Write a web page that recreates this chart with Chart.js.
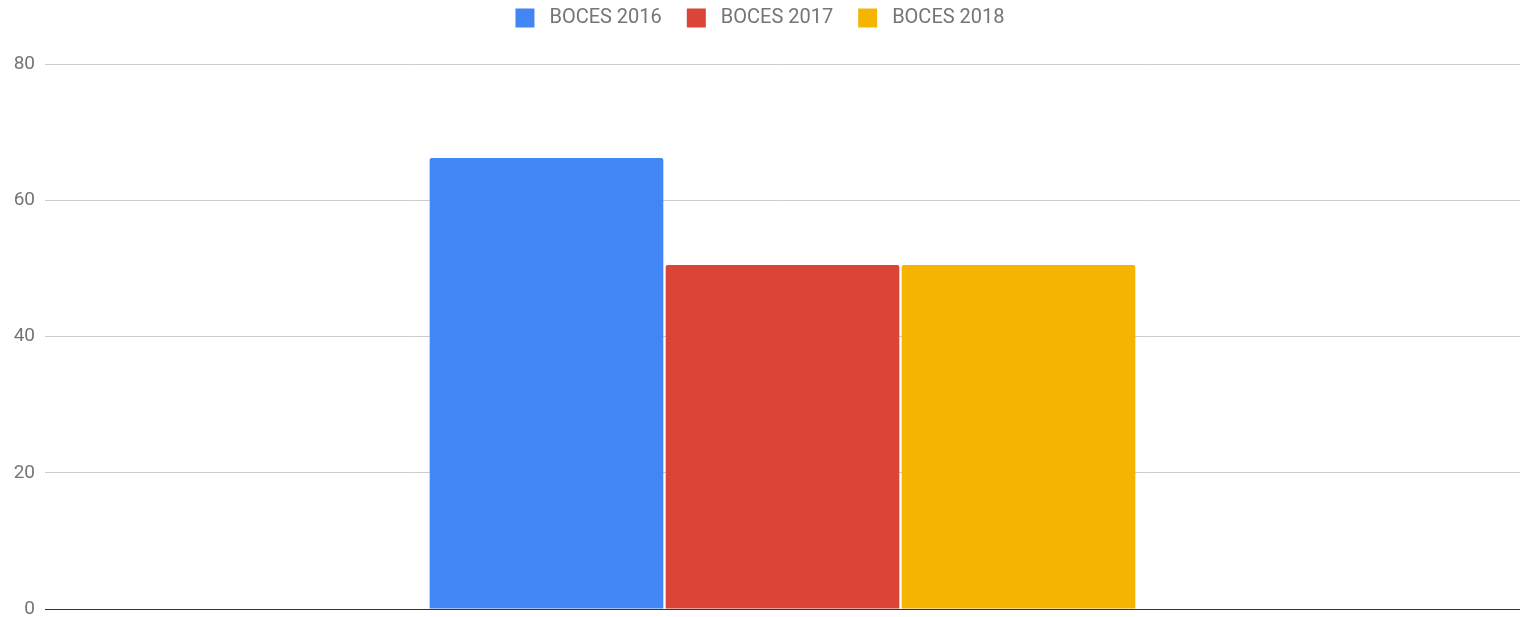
<!DOCTYPE html>
<html>
<head>
<meta charset="utf-8">
<script src="https://cdn.jsdelivr.net/npm/chart.js@4/dist/chart.umd.min.js"></script>
<style>
  html, body { margin: 0; padding: 0; background: #fff; }
  #chart { display: block; }
</style>
</head>
<body>
<canvas id="chart" width="1520" height="617"></canvas>
<script>
// datos
const categories = [''];
const seriesNames = ['BOCES 2016', 'BOCES 2017', 'BOCES 2018'];
const boces2016 = [66.2];
const boces2017 = [50.5];
const boces2018 = [50.5];
const yTicks = [0, 20, 40, 60, 80];

const COLORS = ['#4285F4', '#DB4437', '#F4B400'];
const TEXT = '#757575';

const values = [boces2016, boces2017, boces2018];
const datasets = seriesNames.map((name, i) => ({
  label: name,
  data: values[i],
  backgroundColor: COLORS[i],
  borderWidth: 0,
  borderRadius: { topLeft: 2, topRight: 2 },
  borderSkipped: 'start',
  categoryPercentage: 0.48,
  barPercentage: 0.99
}));

// legend: altura fija y desplazado arriba (el padding horizontal es grande)
const legendFix = {
  id: 'legendFix',
  beforeInit(chart) {
    const leg = chart.legend;
    if (!leg) return;
    const fit = leg.fit.bind(leg);
    leg.fit = function () { fit(); this.height = 64; };
    const draw = leg.draw.bind(leg);
    leg.draw = function () {
      const c = this.ctx;
      c.save();
      c.translate(0, -17);
      draw();
      c.restore();
    };
  }
};

new Chart(document.getElementById('chart').getContext('2d'), {
  type: 'bar',
  data: { labels: categories, datasets },
  plugins: [legendFix],
  options: {
    responsive: false,
    animation: false,
    layout: { padding: { top: 0, right: 0, bottom: 8, left: 0 } },
    plugins: {
      tooltip: { enabled: false },
      legend: {
        position: 'top',
        align: 'center',
        labels: {
          boxWidth: 19,
          boxHeight: 19,
          padding: 25,
          color: TEXT,
          font: { family: 'Roboto', size: 20 },
          generateLabels(chart) {
            return chart.data.datasets.map((ds, i) => ({
              text: ' ' + ds.label,
              fillStyle: ds.backgroundColor,
              strokeStyle: ds.backgroundColor,
              lineWidth: 0,
              fontColor: TEXT,
              hidden: false,
              datasetIndex: i
            }));
          }
        }
      }
    },
    scales: {
      x: {
        afterFit(scale) {
          scale.height = 0;
          scale.paddingLeft = 0; scale.paddingRight = 0;
        },
        ticks: { display: false },
        grid: { display: false, drawTicks: false },
        border: { display: true, color: '#333', width: 1 }
      },
      y: {
        min: 0,
        max: 80,
        afterBuildTicks(scale) { scale.ticks = yTicks.map(v => ({ value: v })); },
        afterFit(scale) {
          scale.width = 45;
          scale.paddingTop = 0; scale.paddingBottom = 0;
        },
        ticks: {
          color: TEXT,
          padding: 10,
          font: { family: 'Roboto', size: 19 }
        },
        grid: {
          drawTicks: false,
          color: ctx => ctx.tick && ctx.tick.value === 0 ? '#333' : '#cccccc',
          lineWidth: 1
        },
        border: { display: false }
      }
    }
  }
});
</script>
</body>
</html>
